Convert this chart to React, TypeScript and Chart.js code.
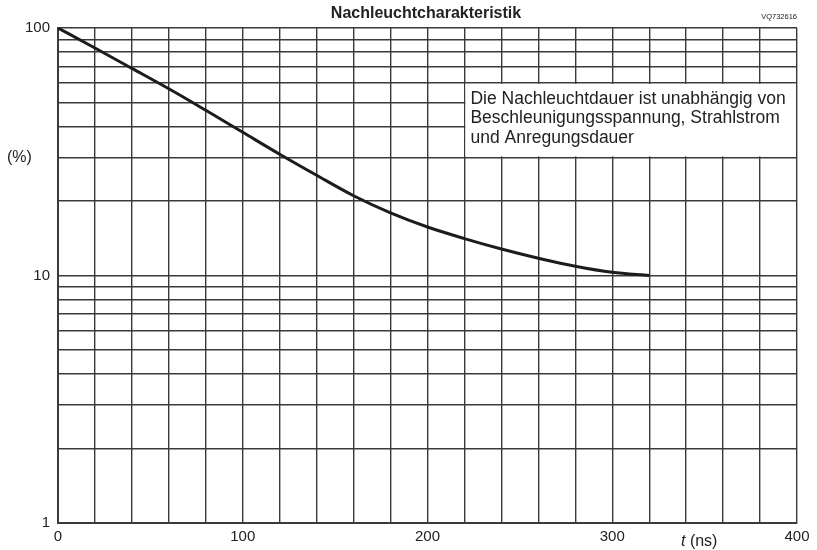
import React, { useEffect, useRef } from "react";
import { Chart, registerables } from "chart.js";

Chart.register(...registerables);

// ---- data ----
const timeNs = [0, 20, 40, 60, 80, 100, 120, 140, 160, 180, 200, 220, 240, 260, 280, 300, 320];
const afterglowPct = [100, 83, 68.7, 56.8, 46.5, 37.9, 30.9, 25.4, 21.0, 17.9, 15.7, 14.1, 12.8, 11.75, 10.9, 10.3, 10.0];
const xLabelValues = [0, 100, 200, 300, 400];
const yLabelValues = [1, 10, 100];
const yGridValues = [1, 2, 3, 4, 5, 6, 7, 8, 9, 10, 20, 30, 40, 50, 60, 70, 80, 90, 100];
const titleText = "Nachleuchtcharakteristik";
const codeText = "VQ732616";
const yUnitText = "(%)";
const xUnitText = ["t", " (ns)"];
const noteLines = [
  "Die Nachleuchtdauer ist unabhängig von",
  "Beschleunigungsspannung, Strahlstrom",
  "und Anregungsdauer",
];
const noteTimeRange = [220, 400];
const notePctRange = [30, 60];

const FONT = '"Liberation Sans", Arial, sans-serif';
const INK = "#222";
const GRID = "#3a3a3a";

const annotationPlugin = {
  id: "annotations",
  afterDraw(chart: any) {
    const { ctx, scales } = chart;
    const x = scales.x;
    const y = scales.y;
    ctx.save();

    // note box (covers the grid inside)
    const l = x.getPixelForValue(noteTimeRange[0]);
    const r = x.getPixelForValue(noteTimeRange[1]);
    const t = y.getPixelForValue(notePctRange[1]);
    const b = y.getPixelForValue(notePctRange[0]);
    ctx.fillStyle = "#fff";
    ctx.fillRect(l + 1, t + 1, r - l - 2, b - t - 2);

    ctx.fillStyle = INK;
    ctx.textBaseline = "middle";
    ctx.textAlign = "left";
    ctx.font = `17.5px ${FONT}`;
    noteLines.forEach((line, i) => {
      ctx.fillText(line, l + 6, t + 16 + i * 19.5);
    });

    // title
    ctx.font = `bold 16px ${FONT}`;
    ctx.textAlign = "center";
    ctx.fillText(titleText, 426, 14);

    // code
    ctx.font = `7.5px ${FONT}`;
    ctx.textAlign = "right";
    ctx.fillText(codeText, 797, 17);

    // y unit
    ctx.font = `16px ${FONT}`;
    ctx.textAlign = "left";
    ctx.fillText(yUnitText, 7, 158);

    // x unit
    ctx.font = `italic 16px ${FONT}`;
    const tw = ctx.measureText(xUnitText[0]).width;
    ctx.fillText(xUnitText[0], 681, 542);
    ctx.font = `16px ${FONT}`;
    ctx.fillText(xUnitText[1], 681 + tw, 542);

    ctx.restore();
  },
};

export default function App() {
  const ref = useRef<HTMLCanvasElement | null>(null);

  useEffect(() => {
    if (!ref.current) return;
    const chart = new Chart(ref.current, {
      type: "line",
      data: {
        datasets: [
          {
            data: timeNs.map((t, i) => ({ x: t, y: afterglowPct[i] })),
            borderColor: "#1c1c1c",
            borderWidth: 3,
            pointRadius: 0,
            fill: false,
            cubicInterpolationMode: "monotone",
          },
        ],
      },
      options: {
        animation: false,
        responsive: false,
        layout: { padding: { top: 28, right: 20, bottom: 0, left: 0 } },
        plugins: {
          legend: { display: false },
          tooltip: { enabled: false },
          title: { display: false },
        },
        scales: {
          x: {
            type: "linear",
            min: 0,
            max: 400,
            afterFit: (s: any) => {
              s.height = 27;
            },
            ticks: {
              stepSize: 20,
              autoSkip: false,
              maxRotation: 0,
              padding: 5,
              color: INK,
              font: { family: FONT, size: 15 },
              callback: (v: any) => (xLabelValues.includes(Number(v)) ? String(v) : ""),
            },
            grid: { color: GRID, lineWidth: 1.4, drawTicks: false },
            border: { display: true, color: GRID, width: 2 },
          },
          y: {
            type: "logarithmic",
            min: 1,
            max: 100,
            afterFit: (s: any) => {
              s.width = 58;
            },
            afterBuildTicks: (s: any) => {
              s.ticks = yGridValues.map((v) => ({ value: v }));
            },
            ticks: {
              autoSkip: false,
              padding: 8,
              color: INK,
              font: { family: FONT, size: 15 },
              callback: (v: any) => (yLabelValues.includes(Number(v)) ? String(v) : ""),
            },
            grid: { color: GRID, lineWidth: 1.4, drawTicks: false },
            border: { display: true, color: GRID, width: 2 },
          },
        },
      },
      plugins: [annotationPlugin],
    });
    return () => chart.destroy();
  }, []);

  return (
    <div style={{ position: "absolute", left: 0, top: 0, width: 817, height: 550, background: "#fff" }}>
      <canvas ref={ref} width={817} height={550} />
    </div>
  );
}
